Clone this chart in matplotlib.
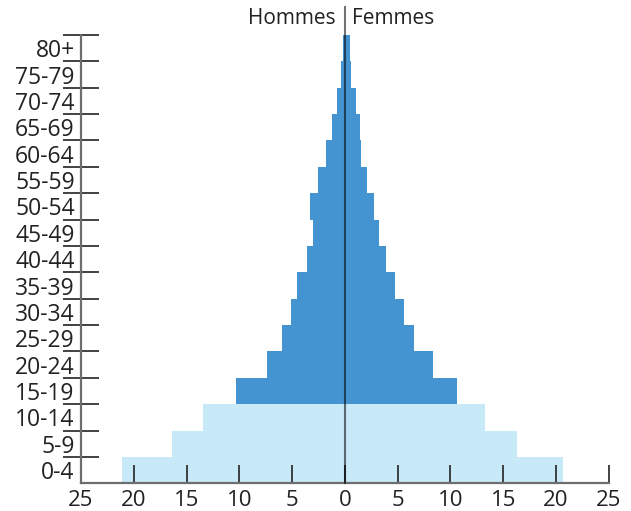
import matplotlib
matplotlib.use("Agg")
import matplotlib.pyplot as plt
import numpy as np

plt.rcParams['font.family'] = ['Open Sans', 'DejaVu Sans']

age_groups = ["0-4", "5-9", "10-14", "15-19", "20-24", "25-29", "30-34", "35-39",
              "40-44", "45-49", "50-54", "55-59", "60-64", "65-69", "70-74", "75-79", "80+"]
hommes = [21.1, 16.35, 13.4, 10.28, 7.34, 5.91, 5.06, 4.58, 3.63, 3.0, 3.26, 2.59,
          1.83, 1.26, 0.79, 0.41, 0.22]
femmes = [20.65, 16.29, 13.25, 10.6, 8.32, 6.52, 5.57, 4.72, 3.86, 3.2, 2.72, 2.06,
          1.49, 1.39, 1.01, 0.54, 0.45]
x_ticks = [-25, -20, -15, -10, -5, 0, 5, 10, 15, 20, 25]

dark = "#4494d2"
light = "#c7e9f8"

fig = plt.figure(figsize=(6.31, 5.11), dpi=100)
ax = fig.add_axes([81/631, 1-483.3/511, (608.7-81)/631, (483.3-35)/511])

n = len(age_groups)
pos = np.arange(n) + 0.5
colors = [light if i < 3 else dark for i in range(n)]
ax.barh(pos, [-h for h in hommes], height=1.0, color=colors, linewidth=0)
ax.barh(pos, femmes, height=1.0, color=colors, linewidth=0)

ax.set_xlim(-25, 25)
ax.set_ylim(0, n)

ax.axvline(0, ymin=0, ymax=(483.3-7)/448.3, color="black", alpha=0.55, lw=1.5, clip_on=False, zorder=5)

for s in ["top", "right"]:
    ax.spines[s].set_visible(False)
for s in ["left", "bottom"]:
    ax.spines[s].set_color("#6e6e6e")
    ax.spines[s].set_linewidth(1.6)

ax.set_xticks(x_ticks)
ax.set_xticklabels([str(abs(v)) for v in x_ticks])
ax.tick_params(axis="x", direction="in", length=13, width=1.3, color="#333333",
               labelsize=16, pad=5, labelcolor="#222222")

ax.set_yticks(np.arange(1, n + 1))
ax.set_yticklabels([])
ax.tick_params(axis="y", which="major", direction="inout", length=26, width=1.3, color="#333333")
ax.set_yticks(pos, minor=True)
ax.set_yticklabels(age_groups, minor=True)
ax.tick_params(axis="y", which="minor", length=0, labelsize=16.5, pad=4.5, labelcolor="#222222")

fig.text(336/631, 1-18/511, "Hommes", ha="right", va="center", fontsize=15, color="#222222")
fig.text(352/631, 1-18/511, "Femmes", ha="left", va="center", fontsize=15, color="#222222")

fig.savefig("out.png", dpi=100)
